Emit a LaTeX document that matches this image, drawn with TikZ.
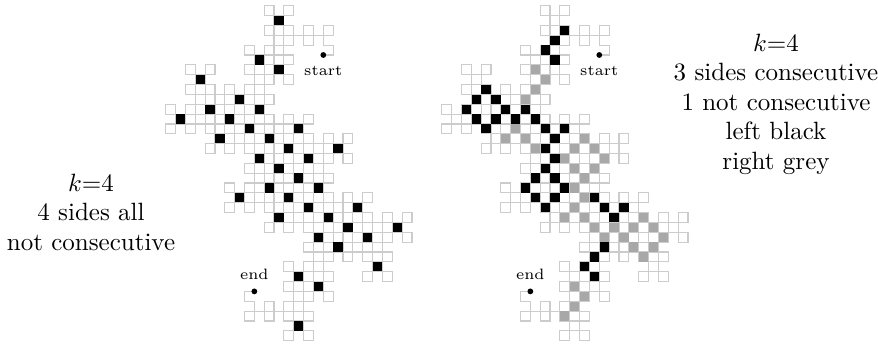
\documentclass[tikz,border=0pt]{standalone}
\usepackage{tikz}
\definecolor{lineg}{gray}{0.8}
\definecolor{cellg}{gray}{0.66}

\newcount\Rx \newcount\Ry \newcount\Rdir \newcount\Rn
\newcount\Rt \newcount\Rd \newcount\Rq
\newcount\Ca \newcount\Cb \newcount\Cc \newcount\Cd
\newcount\Pa \newcount\Pb \newcount\Pc \newcount\Pd
\newcount\Ct \newcount\Cm

% lowest non-zero base-5 digit of #1 -> \Rd
\def\lowdigit#1{%
  \Rt=#1\relax
  \loop
    \Rq=\Rt \divide\Rq by 5 \multiply\Rq by 5 \relax
    \Rd=\Rt \advance\Rd by -\Rq \relax
  \ifnum\Rd=0 \divide\Rt by 5 \relax \repeat
}

% R5 dragon, level 4 (625 segments)
\def\Rstep{%
  \ifnum\Rn>0
    \lowdigit{\Rn}%
    \ifnum\Rd<3 \advance\Rdir by 1 \relax\else \advance\Rdir by 3 \relax\fi
    \ifnum\Rdir>3 \advance\Rdir by -4 \relax\fi
  \fi
  \ifcase\Rdir
    \expandafter\xdef\csname RH\the\Rx,\the\Ry\endcsname{\the\Rn}\advance\Rx by 1 \relax
  \or
    \expandafter\xdef\csname RV\the\Rx,\the\Ry\endcsname{\the\Rn}\advance\Ry by 1 \relax
  \or
    \advance\Rx by -1 \relax\expandafter\xdef\csname RH\the\Rx,\the\Ry\endcsname{\the\Rn}%
  \or
    \advance\Ry by -1 \relax\expandafter\xdef\csname RV\the\Rx,\the\Ry\endcsname{\the\Rn}%
  \fi
  \xdef\Rpath{\Rpath -- (\the\Rx,\the\Ry)}%
  \advance\Rn by 1 \relax
  \ifnum\Rn<625 \expandafter\Rstep \fi
}

\def\consec#1#2#3#4{%
  \Ct=#1\relax \advance\Ct by -#2\relax
  \ifnum\Ct<0 \Ct=-\Ct\relax \fi
  \ifnum\Ct=1 \advance#3 by 1\relax \advance#4 by 1\relax \fi
}

% classify unit square with lower-left corner (#1,#2)
% 0: not enclosed, 1: 4 sides none consecutive,
% 2: 3 consecutive + 1, left, 3: 3 consecutive + 1, right
\def\classify#1#2{%
  \gdef\Ctype{0}%
  \Ct=#2\relax \advance\Ct by 1\relax \edef\Cyp{\the\Ct}%
  \Ct=#1\relax \advance\Ct by 1\relax \edef\Cxp{\the\Ct}%
  \ifcsname RH#1,#2\endcsname
   \ifcsname RH#1,\Cyp\endcsname
    \ifcsname RV#1,#2\endcsname
     \ifcsname RV\Cxp,#2\endcsname
       \Ca=\csname RH#1,#2\endcsname\relax
       \Cb=\csname RH#1,\Cyp\endcsname\relax
       \Cc=\csname RV#1,#2\endcsname\relax
       \Cd=\csname RV\Cxp,#2\endcsname\relax
       \Pa=0 \Pb=0 \Pc=0 \Pd=0 \relax
       \consec\Ca\Cb\Pa\Pb \consec\Ca\Cc\Pa\Pc \consec\Ca\Cd\Pa\Pd
       \consec\Cb\Cc\Pb\Pc \consec\Cb\Cd\Pb\Pd \consec\Cc\Cd\Pc\Pd
       \Ct=\Pa \advance\Ct by \Pb \advance\Ct by \Pc \advance\Ct by \Pd \relax
       \ifnum\Ct=0 \gdef\Ctype{1}\fi
       \ifnum\Ct=4
         \Cm=-1 \relax
         \ifnum\Pa=2 \Cm=\Ca \fi
         \ifnum\Pb=2 \Cm=\Cb \fi
         \ifnum\Pc=2 \Cm=\Cc \fi
         \ifnum\Pd=2 \Cm=\Cd \fi
         \ifnum\Cm>-1
           \lowdigit{\Cm}%
           \ifnum\Rd<3 \gdef\Ctype{2}\else \gdef\Ctype{3}\fi
         \fi
       \fi
     \fi
    \fi
   \fi
  \fi
}

\Rx=0 \Ry=0 \Rdir=0 \Rn=0 \relax
\gdef\Rpath{(0,0)}
\Rstep

\tikzset{
  curveline/.style={draw=lineg, line width=0.45pt, line join=miter},
  blackcell/.style={fill=black},
  greycell/.style={fill=cellg},
  enddot/.style={fill=black},
  txt/.style={align=center, font=\fontsize{10}{11.8}\selectfont, inner sep=0pt},
  lbl/.style={font=\fontsize{6}{7}\selectfont, inner sep=0pt, anchor=base},
}

\begin{document}
\begin{tikzpicture}[x=0.4pt, y=0.4pt]
\useasboundingbox (0,0) rectangle (878,-344);

% left figure
\begin{scope}[shift={(323.3,-55)}, scale=9.85]
  \edef\tmp{\noexpand\draw[curveline] \Rpath;}\tmp
  \coordinate (s1) at (0,0);
  \coordinate (e1) at (-7,-24);
\end{scope}
% right figure
\begin{scope}[shift={(599.3,-55)}, scale=9.85]
  \edef\tmp{\noexpand\draw[curveline] \Rpath;}\tmp
  \coordinate (s2) at (0,0);
  \coordinate (e2) at (-7,-24);
\end{scope}

\foreach \cx in {-18,...,10}{%
  \foreach \cy in {-31,...,7}{%
    \classify{\cx}{\cy}%
    \ifnum\Ctype=1
      \fill[blackcell, shift={(323.3,-55)}, scale=9.85] (\cx,\cy) ++(0.03,0.03) rectangle ++(0.94,0.94);
    \fi
    \ifnum\Ctype=2
      \fill[blackcell, shift={(599.3,-55)}, scale=9.85] (\cx,\cy) ++(0.03,0.03) rectangle ++(0.94,0.94);
    \fi
    \ifnum\Ctype=3
      \fill[greycell, shift={(599.3,-55)}, scale=9.85] (\cx,\cy) ++(0.03,0.03) rectangle ++(0.94,0.94);
    \fi
  }%
}

\fill[enddot] (s1) circle (2.9);
\fill[enddot] (e1) circle (2.9);
\fill[enddot] (s2) circle (2.9);
\fill[enddot] (e2) circle (2.9);

\node[lbl] (st1) at (323.3,-75.3) {start};
\node[lbl] (en1) at (254.3,-279.3) {end};
\node[lbl] (st2) at (599.3,-75.3) {start};
\node[lbl] (en2) at (530.3,-279.3) {end};

\node[txt] (lt) at (91,-212) {$k$=4\\4 sides all\\not consecutive};
\node[txt] (rt) at (776,-104) {$k$=4\\3 sides consecutive\\1 not consecutive\\left black\\right grey};
\end{tikzpicture}
\end{document}
